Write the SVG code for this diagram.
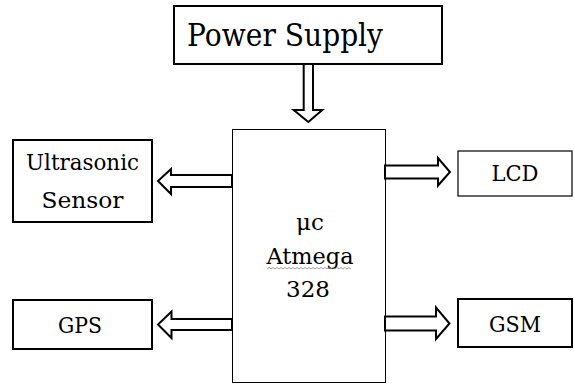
<svg xmlns="http://www.w3.org/2000/svg" width="574" height="385" viewBox="0 0 574 385">
<style>
.box{fill:#fff;stroke:#000;stroke-width:2}
.thin{fill:#fff;stroke:#000;stroke-width:1.2}
.arrow{fill:#fff;stroke:#000;stroke-width:2;stroke-linejoin:miter}
.t{font-family:'DejaVu Serif',serif;fill:#000;text-anchor:middle}
.lbl{font-size:22.5px}
</style>
<rect width="574" height="385" fill="#fff"/>
<g id="connectors">
<polygon class="arrow" points="303.7,64 313,64 313,110 322.3,110 308.3,122 293.7,110 303.7,110"/>
<polygon class="arrow" points="232,175 171,175 171,169 158,181 171,194 171,187 232,187"/>
<polygon class="arrow" points="385,165.5 438,165.5 438,158 450,172 438,185.5 438,178.5 385,178.5"/>
<polygon class="arrow" points="232,319 171.5,319 171.5,311.5 158,324.5 171.5,338 171.5,330 232,330"/>
<polygon class="arrow" points="385,316.5 436,316.5 436,307.5 449.5,323.5 436,339 436,330.5 385,330.5"/>
</g>
<g id="power">
<rect class="box" x="174" y="6" width="268" height="58"/>
<text class="t" x="187" y="46" font-size="31" style="text-anchor:start" textLength="196" lengthAdjust="spacingAndGlyphs">Power Supply</text>
</g>
<g id="mcu">
<rect x="232.5" y="129.5" width="153" height="253" fill="none" stroke="#000" stroke-width="1"/>
<text class="t" x="310" y="230" font-size="23">μc</text>
<text class="t" x="310" y="264" font-size="23" textLength="87" lengthAdjust="spacingAndGlyphs">Atmega</text>
<path d="M267,269 l2,-1.5 l2,1.5 l2,-1.5 l2,1.5 l2,-1.5 l2,1.5 l2,-1.5 l2,1.5 l2,-1.5 l2,1.5 l2,-1.5 l2,1.5 l2,-1.5 l2,1.5 l2,-1.5 l2,1.5 l2,-1.5 l2,1.5 l2,-1.5 l2,1.5 l2,-1.5 l2,1.5 l2,-1.5 l2,1.5 l2,-1.5 l2,1.5 l2,-1.5 l2,1.5 l2,-1.5 l2,1.5 l2,-1.5 l2,1.5 l2,-1.5 l2,1.5 l2,-1.5 l2,1.5 l2,-1.5 l2,1.5 l2,-1.5 l2,1.5 l2,-1.5 l2,1.5" fill="none" stroke="#888" stroke-width="0.8"/>
<text class="t" x="308" y="297" font-size="23">328</text>
</g>
<g id="ultrasonic">
<rect class="box" x="13" y="140" width="139" height="82"/>
<text class="t lbl" x="82.5" y="170" textLength="113" lengthAdjust="spacingAndGlyphs">Ultrasonic</text>
<text class="t lbl" x="82.5" y="208" textLength="82" lengthAdjust="spacingAndGlyphs">Sensor</text>
</g>
<g id="lcd">
<rect class="thin" x="458" y="151" width="114" height="45"/>
<text class="t lbl" x="515" y="181" textLength="47" lengthAdjust="spacingAndGlyphs">LCD</text>
</g>
<g id="gps">
<rect class="box" x="13" y="300" width="139" height="49"/>
<text class="t lbl" x="80" y="333" textLength="44" lengthAdjust="spacingAndGlyphs">GPS</text>
</g>
<g id="gsm">
<rect class="box" x="458" y="299" width="114" height="48"/>
<text class="t lbl" x="515" y="332" textLength="52" lengthAdjust="spacingAndGlyphs">GSM</text>
</g>
</svg>
